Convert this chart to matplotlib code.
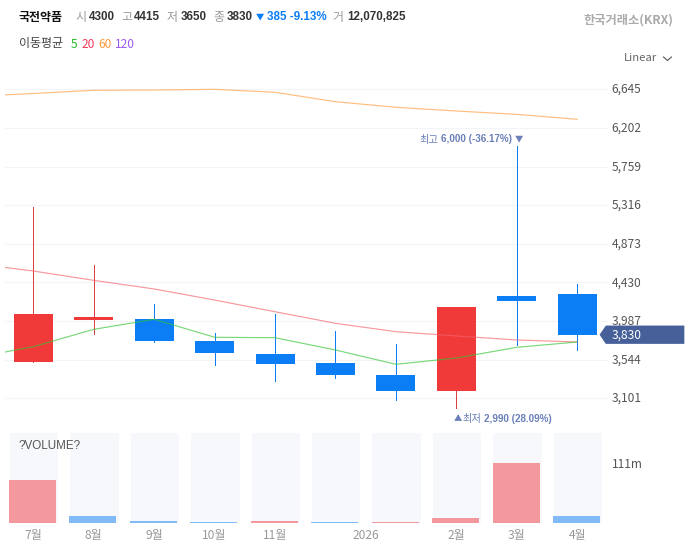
import matplotlib
matplotlib.use("Agg")
import matplotlib.pyplot as plt
from matplotlib.patches import Polygon
from matplotlib.transforms import ScaledTranslation

plt.rcParams['font.family'] = ['Noto Sans CJK KR', 'DejaVu Sans']

# ---- data ----
idx = list(range(10))
opens  = [3515, 3999, 4010, 3758, 3609, 3506, 3368, 3185, 4275, 4300]
closes = [4065, 4034, 3758, 3620, 3495, 3368, 3185, 4148, 4220, 3830]
highs  = [5295, 4627, 4179, 3850, 4068, 3873, 3724, 4148, 6000, 4415]
lows   = [3515, 3838, 3750, 3483, 3300, 3330, 3085, 2990, 3716, 3650]
ma_x   = [-1, 0, 1, 2, 3, 4, 5, 6, 7, 8, 9]
ma5    = [3563, 3693, 3892, 4007, 3801, 3796, 3655, 3491, 3563, 3686, 3747]
ma20   = [4648, 4561, 4454, 4355, 4228, 4094, 3961, 3865, 3816, 3770, 3747]
ma60   = [6563, 6597, 6634, 6637, 6645, 6611, 6503, 6439, 6396, 6358, 6301]
volume = [79.5, 12.5, 3.4, 1.2, 4.6, 1.2, 2.6, 8.6, 111, 12.07]
vol_dir = ['up', 'down', 'down', 'down', 'up', 'down', 'up', 'up', 'up', 'down']
price_ticks = [3101, 3544, 3987, 4430, 4873, 5316, 5759, 6202, 6645]
x_tick_pos = [0, 1, 2, 3, 4, 5.5, 7, 8, 9]
x_tick_labels = ['7월', '8월', '9월', '10월', '11월', '2026', '2월', '3월', '4월']
vol_tick = 111
last_price = 3830

# ---- layout ----
W, H = 691, 553
RED, BLUE = '#f03a3a', '#0b7ef5'
VRED, VBLUE = '#f3989d', '#82baf7'
GRID = '#f2f4f8'
def axes_px(l, t, r, b):
    return fig.add_axes([l / W, 1 - b / H, (r - l) / W, (b - t) / H])

fig = plt.figure(figsize=(W / 100, H / 100), dpi=100, facecolor='white')
px_per_idx = 60.44
xlim = ((4.5 - 33.3) / px_per_idx, (608 - 33.3) / px_per_idx)
fs = 8.64

# price panel
ax = axes_px(4.5, 70, 608, 425)
upp = 11.47
ax.set_ylim(3101 - (425 - 398.3) * upp, 3101 + (398.3 - 70) * upp)
ax.set_xlim(xlim)
for s in ax.spines.values():
    s.set_visible(False)
ax.set_yticks(price_ticks)
ax.set_yticklabels([f'{v:,}' for v in price_ticks], fontsize=fs, color='#555555')
ax.yaxis.tick_right()
ax.tick_params(axis='y', length=0, pad=2.6)
up_shift = ScaledTranslation(0, 1.2 / 100, fig.dpi_scale_trans)
for lab in ax.get_yticklabels():
    lab.set_transform(lab.get_transform() + up_shift)
ax.set_xticks([])
ax.grid(axis='y', color=GRID, lw=0.75)
ax.set_axisbelow(True)

for i, o, c, h, l in zip(idx, opens, closes, highs, lows):
    col = RED if c >= o else BLUE
    ax.vlines(i, l, h, color='#d94040' if c >= o else col, lw=0.5, zorder=2, antialiased=False)
    ax.bar(i, abs(c - o), bottom=min(o, c), width=39 / px_per_idx, color=col, zorder=3, lw=0)

ax.plot(ma_x, ma60, color='#ff9a3c', alpha=0.65, lw=0.85, zorder=4)
ax.plot(ma_x, ma20, color='#f5626a', alpha=0.65, lw=0.85, zorder=4)
ax.plot(ma_x, ma5, color='#32c432', alpha=0.65, lw=0.85, zorder=4)

# volume panel
vx = axes_px(4.5, 433, 608, 523)
vx.set_xlim(xlim)
vx.set_ylim(0, 166.5)
for s in vx.spines.values():
    s.set_visible(False)
off_bg = 0.7 / px_per_idx
off_v = -0.8 / px_per_idx
vx.bar([i + off_bg for i in idx], [166.5] * len(idx), width=48.4 / px_per_idx, color='#f7f8fc', lw=0, zorder=1)
vx.bar([i + off_v for i in idx], volume, width=47 / px_per_idx,
       color=[VRED if d == 'up' else VBLUE for d in vol_dir], lw=0, zorder=2)
vx.set_yticks([vol_tick])
vx.set_yticklabels([f'{vol_tick}m'], fontsize=fs, color='#555555')
vx.yaxis.tick_right()
vx.tick_params(axis='y', length=0, pad=2.6)
vx.set_xticks(x_tick_pos)
vx.set_xticklabels(x_tick_labels, fontsize=fs, color='#999999')
vx.tick_params(axis='x', length=0, pad=4)

# overlay in pixel coordinates for header text and tags
ov = fig.add_axes([0, 0, 1, 1], zorder=10)
ov.set_xlim(0, W)
ov.set_ylim(H, 0)
ov.axis('off')
ov.patch.set_alpha(0)
def T(x, y, s, color='#333333', weight='normal', size=fs, ha='left', family=None):
    ov.text(x, y, s, color=color, fontweight=weight, fontsize=size, ha=ha, va='center',
            family=family)

GR = '#999999'
DK = '#333333'
LAT = ['Liberation Sans', 'Noto Sans CJK KR']
T(19, 17, '국전약품', '#111111', 'bold')
for x, s in [(75, '시'), (121, '고'), (167, '저'), (213, '종'), (332, '거')]:
    T(x, 17, s, GR)
for x, s in [(89, '4300'), (134, '4415'), (181, '3650'), (227, '3830'), (347, '12,070,825')]:
    T(x, 16.5, s, DK, 'bold', size=8.4, family=LAT)
T(256, 16.5, '▼', '#0b7ef5', size=6)
T(267, 16.5, '385 -9.13%', '#0b7ef5', 'bold', size=8.4, family=LAT)
T(673, 20, '한국거래소(KRX)', '#aaaaaa', 'bold', size=8.8, ha='right')
T(19, 44, '이동평균', '#444444')
T(71, 44, '5', '#22bb22')
T(82, 44, '20', '#f0395a')
T(98, 44, '60', '#ff9a3c')
T(115, 44, '120', '#9b59f5')
T(624, 58, 'Linear', '#666666', size=8.2)
ov.plot([663.5, 667.5, 671.5], [57, 60.5, 57], color='#555555', lw=0.8)

AN = '#6b80b8'
T(419, 140, '최고', AN, 'medium', size=7.4)
T(441, 139.5, f'{max(highs):,} (-36.17%)', AN, 'bold', size=7.1, family=LAT)
T(514.5, 139, '▼', AN, size=6)
T(453.5, 418.5, '▲', AN, size=6)
T(462, 419, '최저', AN, 'medium', size=7.4)
T(484, 418.5, f'{min(lows):,} (28.09%)', AN, 'bold', size=7.1, family=LAT)
T(19, 446, '?VOLUME?', '#555555', size=8.4, family=LAT)

# last-price tag, placed from the price axis
yc = 398.3 - (last_price - 3101) / upp
ov.add_patch(Polygon([(600, yc), (606, yc - 8.8), (684, yc - 8.8), (684, yc + 8.8), (606, yc + 8.8)],
                     closed=True, facecolor='#46609a', edgecolor='#46609a', lw=0.5, joinstyle='round'))
T(612, yc, f'{last_price:,}', 'white')

fig.savefig('out.png', dpi=100)
